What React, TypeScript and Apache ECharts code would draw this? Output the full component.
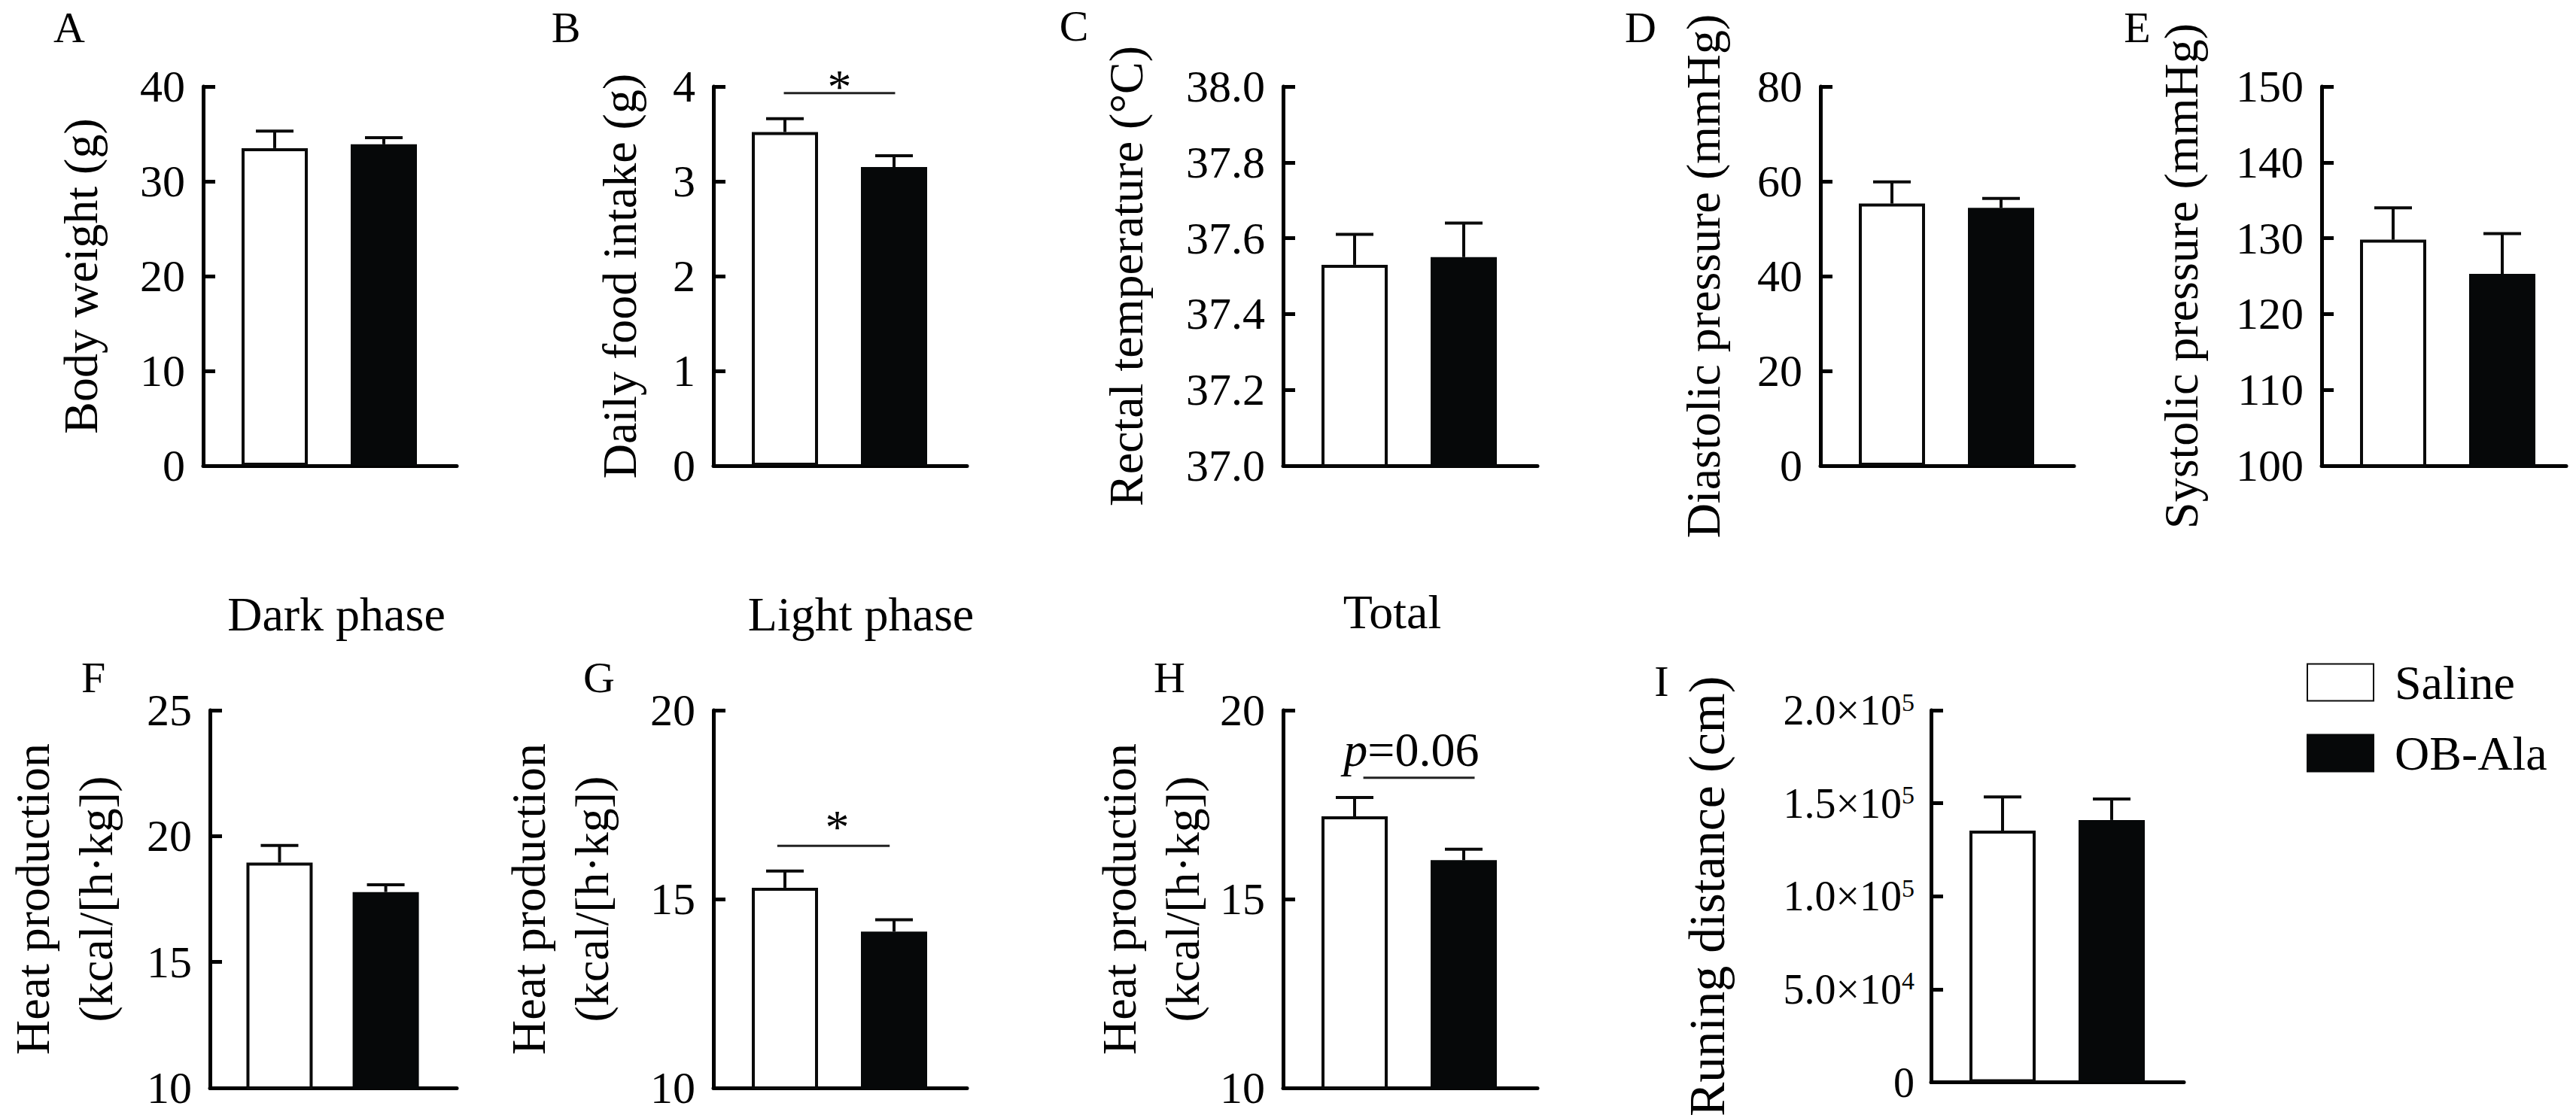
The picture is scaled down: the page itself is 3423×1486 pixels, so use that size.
import React, { useEffect, useRef } from 'react';
import * as echarts from 'echarts';

const FONT = "'Liberation Serif', 'Times New Roman', Times, serif";

// ---------- data ----------
const groups = ['Saline', 'OB-Ala'];

const bodyWeightMean = [33.5, 33.9];
const bodyWeightSem = [1.8, 0.7];
const foodIntakeMean = [3.52, 3.15];
const foodIntakeSem = [0.14, 0.12];
const rectalTempMean = [37.53, 37.55];
const rectalTempSem = [0.08, 0.09];
const diastolicMean = [55.3, 54.4];
const diastolicSem = [4.6, 2.0];
const systolicMean = [129.8, 125.3];
const systolicSem = [4.2, 5.3];
const heatDarkMean = [18.95, 17.78];
const heatDarkSem = [0.68, 0.29];
const heatLightMean = [15.3, 14.14];
const heatLightSem = [0.44, 0.31];
const heatTotalMean = [17.19, 16.03];
const heatTotalSem = [0.5, 0.29];
const runDistMean = [135300, 141000];
const runDistSem = [18100, 11300];

const means = [bodyWeightMean, foodIntakeMean, rectalTempMean, diastolicMean, systolicMean, heatDarkMean, heatLightMean, heatTotalMean, runDistMean];
const sems = [bodyWeightSem, foodIntakeSem, rectalTempSem, diastolicSem, systolicSem, heatDarkSem, heatLightSem, heatTotalSem, runDistSem];

const panelLetters = ['A', 'B', 'C', 'D', 'E', 'F', 'G', 'H', 'I'];
const yTitles = [
  'Body weight (g)',
  'Daily food intake (g)',
  'Rectal temperature (°C)',
  'Diastolic pressure (mmHg)',
  'Systolic pressure (mmHg)',
  'Heat production\n(kcal/[h·kg])',
  'Heat production\n(kcal/[h·kg])',
  'Heat production\n(kcal/[h·kg])',
  'Runing distance (cm)',
];
const phaseTitles = ['Dark phase', 'Light phase', 'Total'];

const yMins = [0, 0, 37, 0, 100, 10, 10, 10, 0];
const yMaxs = [40, 4, 38, 80, 150, 25, 20, 20, 200000];
const yIntervals = [10, 1, 0.2, 20, 10, 5, 5, 5, 50000];

// significance annotations (panel index, span in category units, y value, label)
const sigPanels = [1, 6, 7];
const sigFrom = [-0.01, -0.07, 0.08];
const sigTo = [1.01, 0.96, 1.1];
const sigLineY = [3.93, 16.41, 18.21];
const sigLabels = ['*', '*', '{i|p}=0.06'];
const sigLabelX = [0.5, 0.48, 0.52];
const sigLabelY = [4.0, 16.91, 18.96];

// ---------- layout ----------
const gridLefts = [270, 948, 1705, 2419, 3085, 270, 948, 1705, 2566];
const gridWidths = [337, 337, 338, 337, 325, 337, 337, 338, 336];
const gridTops = [115, 115, 115, 115, 115, 944, 944, 944, 944];
const gridHeights = [504, 504, 504, 504, 504, 502, 502, 502, 502];
const nameGaps = [121, 83, 167, 114, 145, 110, 120, 92, 256];
const titleSizes = [64, 64, 64, 64, 64, 64, 64, 64, 68];
const letterPos = [[92, 36], [752, 36], [1427, 34], [2180, 36], [2840, 36], [124, 900], [796, 900], [1554, 900], [2208, 905]];
const phasePos = [[447, 816], [1144, 816], [1850, 813]];
const BAR_FIRST = 95;
const BAR_STEP = 145;

function superscriptLabel(v: number) {
  if (v === 0) return '{m|0}';
  const exp = Math.floor(Math.log10(v) + 1e-9);
  const mant = (v / Math.pow(10, exp)).toFixed(1);
  return `{m|${mant}×10}{s|${exp}}`;
}

function buildOption() {
  const grid: any[] = [];
  const xAxis: any[] = [];
  const yAxis: any[] = [];
  const series: any[] = [];

  for (let i = 0; i < 9; i++) {
    grid.push({ left: gridLefts[i], top: gridTops[i], width: gridWidths[i], height: gridHeights[i], containLabel: false });
    xAxis.push({
      gridIndex: i,
      type: 'value',
      min: -BAR_FIRST / BAR_STEP,
      max: (gridWidths[i] - BAR_FIRST) / BAR_STEP,
      axisLine: { show: true, onZero: false, lineStyle: { color: '#000', width: 5 } },
      axisTick: { show: false },
      axisLabel: { show: false },
      splitLine: { show: false },
    });
    const isI = i === 8;
    yAxis.push({
      gridIndex: i,
      type: 'value',
      min: yMins[i],
      max: yMaxs[i],
      interval: yIntervals[i],
      name: yTitles[i],
      nameLocation: 'middle',
      nameGap: nameGaps[i],
      nameTextStyle: { fontSize: titleSizes[i], fontFamily: FONT, color: '#000', lineHeight: 84 },
      axisLine: { show: true, onZero: false, lineStyle: { color: '#000', width: 5 } },
      axisTick: { show: true, inside: true, length: 16, lineStyle: { color: '#000', width: 5 } },
      splitLine: { show: false },
      axisLabel: {
        margin: isI ? 22 : 24,
        color: '#000',
        fontFamily: FONT,
        fontSize: 60,
        formatter: isI
          ? (v: number) => superscriptLabel(v)
          : i === 2
          ? (v: number) => v.toFixed(1)
          : (v: number) => String(v),
        rich: isI
          ? {
              m: { fontSize: 56, fontFamily: FONT, color: '#000', lineHeight: 56 },
              s: { fontSize: 34, fontFamily: FONT, color: '#000', lineHeight: 34, verticalAlign: 'top' },
            }
          : undefined,
      },
    });

    groups.forEach((g, gi) => {
      series.push({
        type: 'bar',
        name: g,
        xAxisIndex: i,
        yAxisIndex: i,
        barWidth: 88,
        barGap: '-100%',
        clip: true,
        silent: true,
        z: 2,
        itemStyle:
          gi === 0
            ? { color: '#ffffff', borderColor: '#0a0a0a', borderWidth: 4 }
            : { color: '#060809', borderColor: '#060809', borderWidth: 4 },
        data: [[gi, means[i][gi]]],
      });
    });

    series.push({
      type: 'custom',
      xAxisIndex: i,
      yAxisIndex: i,
      silent: true,
      clip: false,
      z: 4,
      data: groups.map((_, gi) => [gi, means[i][gi], sems[i][gi]]),
      renderItem: (params: any, api: any) => {
        const x = api.value(0);
        const m = api.value(1);
        const e = api.value(2);
        const p0 = api.coord([x, m]);
        const p1 = api.coord([x, m + e]);
        return {
          type: 'group',
          children: [
            { type: 'line', shape: { x1: p0[0], y1: p0[1], x2: p1[0], y2: p1[1] }, style: { stroke: '#0a0a0a', lineWidth: 4 } },
            { type: 'line', shape: { x1: p1[0] - 25, y1: p1[1], x2: p1[0] + 25, y2: p1[1] }, style: { stroke: '#0a0a0a', lineWidth: 4 } },
          ],
        };
      },
    });
  }

  sigPanels.forEach((pi, k) => {
    series.push({
      type: 'custom',
      xAxisIndex: pi,
      yAxisIndex: pi,
      silent: true,
      clip: false,
      z: 5,
      data: [[sigFrom[k], sigTo[k], sigLineY[k], sigLabelX[k], sigLabelY[k]]],
      renderItem: (params: any, api: any) => {
        const a = api.coord([api.value(0), api.value(2)]);
        const b = api.coord([api.value(1), api.value(2)]);
        const t = api.coord([api.value(3), api.value(4)]);
        return {
          type: 'group',
          children: [
            { type: 'line', shape: { x1: a[0], y1: a[1], x2: b[0], y2: b[1] }, style: { stroke: '#222', lineWidth: 3 } },
            {
              type: 'text',
              x: t[0],
              y: t[1],
              style: {
                text: sigLabels[k],
                fontSize: 64,
                fontFamily: FONT,
                fill: '#000',
                align: 'center',
                verticalAlign: 'middle',
                textAlign: 'center',
                textVerticalAlign: 'middle',
                rich: { i: { fontStyle: 'italic', fontSize: 64, fontFamily: FONT, fill: '#000' } },
              },
            },
          ],
        };
      },
    });
  });

  const graphic: any[] = [];
  panelLetters.forEach((l, i) => {
    graphic.push({
      type: 'text',
      x: letterPos[i][0],
      y: letterPos[i][1],
      silent: true,
      style: { text: l, fontSize: 58, fontFamily: FONT, fill: '#000', textAlign: 'center', textVerticalAlign: 'middle', align: 'center', verticalAlign: 'middle' },
    });
  });
  phaseTitles.forEach((t, i) => {
    graphic.push({
      type: 'text',
      x: phasePos[i][0],
      y: phasePos[i][1],
      silent: true,
      style: { text: t, fontSize: 64, fontFamily: FONT, fill: '#000', textAlign: 'center', textVerticalAlign: 'middle', align: 'center', verticalAlign: 'middle' },
    });
  });

  return {
    animation: false,
    backgroundColor: '#ffffff',
    textStyle: { fontFamily: FONT },
    grid,
    xAxis,
    yAxis,
    series,
    graphic,
    legend: {
      data: groups,
      orient: 'vertical',
      left: 3065,
      top: 875,
      padding: 0,
      itemWidth: 88,
      itemHeight: 49,
      itemGap: 30,
      icon: 'rect',
      selectedMode: false,
      textStyle: { fontSize: 64, fontFamily: FONT, color: '#000', lineHeight: 64, padding: [0, 0, 0, 23] },
    },
  };
}

export default function App() {
  const ref = useRef<HTMLDivElement>(null);
  useEffect(() => {
    document.body.style.margin = '0';
    if (!ref.current) return;
    const chart = echarts.init(ref.current, undefined, { renderer: 'svg' });
    chart.setOption(buildOption() as any);
    return () => chart.dispose();
  }, []);
  return <div ref={ref} style={{ width: 3423, height: 1486, background: '#fff' }} />;
}
